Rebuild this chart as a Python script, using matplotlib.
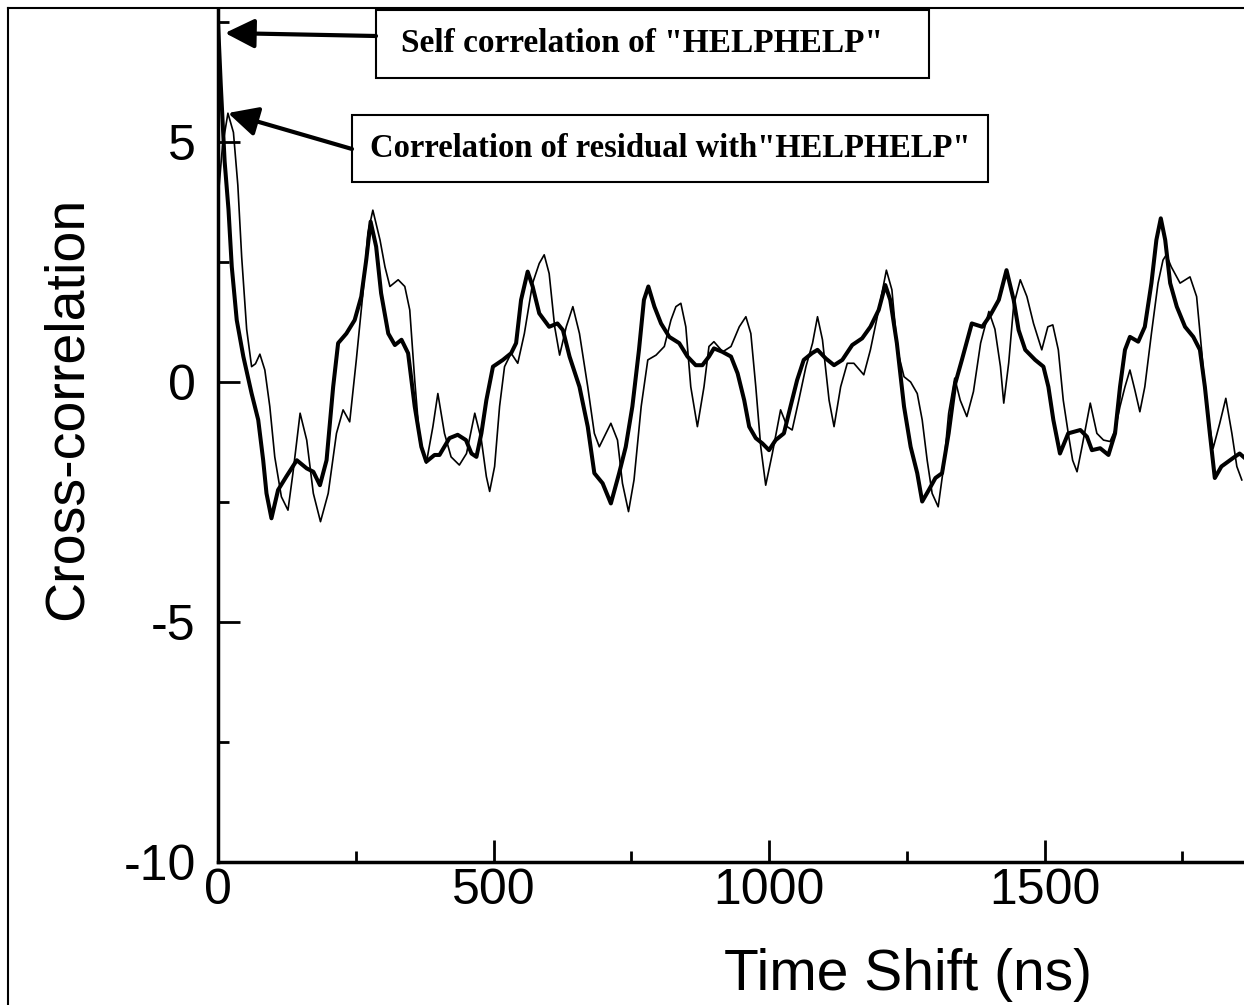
import matplotlib
matplotlib.use("Agg")
import matplotlib.pyplot as plt
from matplotlib.patches import Rectangle, FancyArrowPatch
from matplotlib.lines import Line2D

plt.rcParams['font.family'] = ['Liberation Sans', 'DejaVu Sans']
plt.rcParams['axes.unicode_minus'] = False

# ---- data ----
# thick curve: self correlation of "HELPHELP"
x_self = [0, 5, 12, 19, 25, 34, 46, 61, 73, 82, 88, 97, 109, 124, 143, 161, 173, 185,
          197, 209, 218, 233, 248, 260, 269, 277, 287, 296, 309, 321, 333, 345, 357,
          369, 378, 393, 402, 420, 435, 450, 460, 469, 478, 487, 499, 517, 532, 541,
          550, 562, 571, 583, 601, 616, 626, 638, 656, 671, 683, 698, 713, 728, 740,
          752, 764, 773, 781, 792, 804, 819, 837, 852, 867, 879, 891, 900, 915, 931,
          943, 955, 964, 976, 988, 1000, 1012, 1027, 1039, 1051, 1063, 1078, 1088,
          1103, 1118, 1133, 1151, 1169, 1184, 1199, 1211, 1220, 1232, 1245, 1257,
          1269, 1278, 1290, 1302, 1314, 1326, 1338, 1350, 1368, 1387, 1402, 1417,
          1431, 1444, 1453, 1465, 1483, 1498, 1507, 1516, 1528, 1543, 1565, 1577,
          1586, 1601, 1616, 1628, 1637, 1646, 1655, 1670, 1682, 1694, 1703, 1711,
          1719, 1728, 1740, 1755, 1770, 1782, 1791, 1800, 1809, 1821, 1833, 1845,
          1854, 1865]
y_self = [7.5, 6.2, 4.6, 3.6, 2.4, 1.29, 0.53, -0.24, -0.79, -1.63, -2.32, -2.84, -2.25,
          -1.97, -1.63, -1.8, -1.87, -2.15, -1.63, -0.1, 0.81, 1.01, 1.29, 1.78, 2.54,
          3.34, 2.82, 1.85, 1.01, 0.77, 0.88, 0.6, -0.51, -1.35, -1.66, -1.52, -1.52,
          -1.17, -1.1, -1.21, -1.49, -1.56, -1.07, -0.38, 0.32, 0.46, 0.6, 0.81, 1.71,
          2.3, 1.99, 1.43, 1.15, 1.22, 1.08, 0.53, -0.1, -0.93, -1.9, -2.11, -2.53,
          -1.9, -1.35, -0.51, 0.67, 1.71, 1.99, 1.57, 1.22, 0.94, 0.81, 0.53, 0.35,
          0.35, 0.53, 0.7, 0.63, 0.53, 0.18, -0.38, -0.93, -1.17, -1.28, -1.42, -1.21,
          -1.07, -0.51, 0.04, 0.46, 0.6, 0.67, 0.49, 0.35, 0.46, 0.77, 0.91, 1.15,
          1.5, 2.02, 1.71, 0.81, -0.51, -1.35, -1.9, -2.49, -2.25, -2.0, -1.9, -1.07,
          -0.03, 0.46, 1.22, 1.15, 1.4, 1.71, 2.33, 1.71, 1.08, 0.67, 0.46, 0.32,
          -0.1, -0.79, -1.49, -1.07, -1.0, -1.14, -1.42, -1.38, -1.52, -1.07, -0.1,
          0.67, 0.94, 0.84, 1.15, 2.06, 2.96, 3.41, 2.96, 2.06, 1.57, 1.15, 0.94,
          0.67, -0.1, -1.07, -2.0, -1.76, -1.66, -1.56, -1.49, -1.6]

# thin curve: correlation of residual with "HELPHELP"
x_res = [0, 8, 18, 28, 36, 43, 52, 61, 68, 76, 85, 94, 103, 115, 127, 136, 149, 161,
         173, 186, 200, 215, 227, 239, 251, 263, 272, 281, 294, 303, 312, 327, 339,
         348, 357, 366, 378, 390, 399, 411, 423, 438, 451, 466, 478, 487, 493, 502,
         511, 520, 532, 544, 556, 571, 583, 592, 601, 611, 620, 632, 644, 656, 671,
         683, 692, 713, 725, 734, 745, 755, 768, 780, 795, 810, 822, 831, 840, 849,
         858, 870, 882, 891, 900, 916, 931, 946, 958, 967, 976, 985, 994, 1006, 1021,
         1033, 1042, 1054, 1067, 1079, 1088, 1097, 1109, 1118, 1130, 1142, 1154,
         1172, 1184, 1199, 1213, 1223, 1233, 1245, 1257, 1269, 1278, 1287, 1296,
         1307, 1317, 1326, 1337, 1347, 1359, 1371, 1384, 1399, 1410, 1420, 1426,
         1435, 1444, 1456, 1468, 1480, 1495, 1506, 1515, 1525, 1534, 1544, 1551,
         1559, 1568, 1583, 1595, 1607, 1619, 1628, 1637, 1646, 1655, 1664, 1673,
         1682, 1694, 1706, 1715, 1721, 1730, 1746, 1764, 1776, 1785, 1794, 1806,
         1818, 1829, 1840, 1849, 1858]
y_res = [3.8, 4.9, 5.6, 5.2, 4.1, 2.6, 1.1, 0.32, 0.38, 0.58, 0.25, -0.51, -1.56, -2.39,
         -2.67, -1.9, -0.65, -1.21, -2.32, -2.91, -2.32, -1.07, -0.58, -0.83, 0.46,
         1.85, 3.1, 3.58, 2.96, 2.4, 1.99, 2.13, 1.99, 1.5, 0.04, -1.21, -1.69, -0.93,
         -0.24, -1.07, -1.56, -1.73, -1.49, -0.65, -1.21, -1.97, -2.28, -1.76, -0.51,
         0.32, 0.6, 0.39, 1.01, 2.06, 2.47, 2.65, 2.26, 1.15, 0.56, 1.15, 1.57, 1.01,
         -0.1, -1.07, -1.35, -0.86, -1.21, -2.11, -2.7, -2.04, -0.51, 0.46, 0.56, 0.74,
         1.29, 1.57, 1.64, 1.15, -0.1, -0.93, -0.1, 0.74, 0.84, 0.63, 0.74, 1.15, 1.36,
         1.01, -0.1, -1.35, -2.15, -1.49, -0.58, -0.93, -1.0, -0.38, 0.32, 0.81, 1.36,
         0.88, -0.38, -0.93, -0.1, 0.39, 0.39, 0.15, 0.67, 1.5, 2.33, 1.92, 0.67,
         0.11, 0.0, -0.24, -0.79, -1.63, -2.32, -2.6, -1.76, -0.65, 0.08, -0.38,
         -0.72, -0.2, 0.81, 1.47, 1.1, 0.32, -0.44, 0.4, 1.6, 2.13, 1.78, 1.22, 0.67,
         1.15, 1.19, 0.67, -0.38, -1.14, -1.63, -1.87, -1.35, -0.44, -1.07, -1.21,
         -1.24, -1.0, -0.51, -0.1, 0.25, -0.17, -0.62, -0.1, 1.01, 2.06, 2.54, 2.65,
         2.4, 2.06, 2.19, 1.78, 0.67, -0.51, -1.38, -0.86, -0.34, -1.07, -1.76, -2.04]

x_major = [0, 500, 1000, 1500]
x_minor = [250, 750, 1250, 1750]
y_major = [-10, -5, 0, 5]
y_minor = [-7.5, -2.5, 2.5, 7.5]

label_self = 'Self correlation of "HELPHELP"'
label_res = 'Correlation of residual with"HELPHELP"'

# ---- figure ----
W, H = 1244, 1005
fig = plt.figure(figsize=(W / 100, H / 100), dpi=100)
ax = fig.add_axes([218 / W, 143 / H, 1026 / W, 852 / H])

ax.plot(x_self, y_self, color='black', lw=2.9, solid_joinstyle='round',
        solid_capstyle='round', zorder=3)
ax.plot(x_res, y_res, color='black', lw=1.2, solid_joinstyle='round', zorder=2)

ax.set_xlim(0, 1862)
ax.set_ylim(-10, 7.75)
for s in ('top', 'right'):
    ax.spines[s].set_visible(False)
for s in ('left', 'bottom'):
    ax.spines[s].set_linewidth(2.5)

ax.set_xticks(x_major)
ax.set_xticks(x_minor, minor=True)
ax.set_yticks(y_major)
ax.set_yticks(y_minor, minor=True)
ax.tick_params(which='major', direction='in', length=16, width=2, labelsize=36)
ax.tick_params(which='minor', direction='in', length=8, width=2)
ax.tick_params(axis='x', which='major', pad=4)
ax.tick_params(axis='y', which='major', pad=16)

ax.set_xlabel('Time Shift (ns)', fontsize=41, va='center')
ax.xaxis.set_label_coords((908 - 218) / 1026, (862 - 975) / 852)
ax.set_ylabel('Cross-correlation', fontsize=40, va='center')
ax.yaxis.set_label_coords((68 - 218) / 1026, (862 - 408) / 852)

# outer frame (left and top edges visible)
fig.add_artist(Line2D([8 / W, 8 / W], [0, 1 - 8 / H], transform=fig.transFigure,
                      color='black', lw=1.5))
fig.add_artist(Line2D([8 / W, 1], [1 - 8 / H, 1 - 8 / H], transform=fig.transFigure,
                      color='black', lw=1.5))

# annotation boxes
def box(x0, x1, ytop, ybot, text, fs, tx):
    fig.add_artist(Rectangle((x0 / W, 1 - ybot / H), (x1 - x0) / W, (ybot - ytop) / H,
                             transform=fig.transFigure, facecolor='white',
                             edgecolor='black', lw=1.5, zorder=5))
    fig.text(tx / W, 1 - (ytop + ybot) / 2 / H, text, ha='center', va='center',
             family=['Liberation Serif', 'DejaVu Serif'], fontweight='bold',
             fontsize=fs, zorder=6)

box(376, 929, 10, 78, label_self, 24, 642)
box(352, 988, 115, 182, label_res, 23.5, 670)

def arrow(tail, tip):
    fig.add_artist(FancyArrowPatch((tail[0] / W, 1 - tail[1] / H), (tip[0] / W, 1 - tip[1] / H),
                                   transform=fig.transFigure,
                                   arrowstyle='-|>,head_length=1.0,head_width=0.5',
                                   mutation_scale=18, lw=3, color='black',
                                   shrinkA=0, shrinkB=0, zorder=7))

arrow((376, 36), (225, 33))
arrow((352, 149), (228, 113))

fig.savefig('out.png', dpi=100)
